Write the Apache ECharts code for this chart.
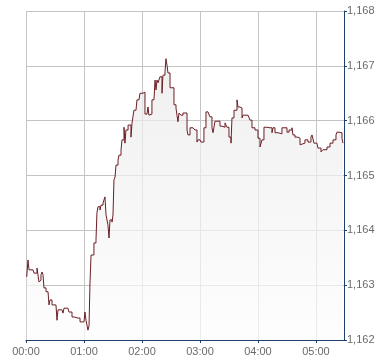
<!DOCTYPE html>
<html>
<head>
<meta charset="utf-8">
<script src="https://cdn.jsdelivr.net/npm/echarts@6/dist/echarts.min.js"></script>
<style>
html,body{margin:0;padding:0;background:#fff;}
#chart{width:390px;height:364px;}
</style>
</head>
<body>
<div id="chart"></div>
<script>
// minutes since 00:00
var minutes = [0.7,2.1,3.1,7.2,8.3,10.3,11.4,12.4,13.4,14.5,15.5,16.6,17.6,18.6,20.7,22.8,23.8,24.8,26.9,31,32.1,33.1,37.2,38.3,39.3,43.4,44.5,47.6,49.7,53.8,55.9,60,61,62.1,64.1,65.2,66.2,67.3,70.3,72.4,73.4,74.5,76.6,77.6,79.7,81.7,82.8,84.8,85.9,86.9,89,90,91,92.1,93.1,95.2,96.2,98.3,99.3,101.4,102.4,103.4,105.6,107.6,108.6,109.7,111.7,113.8,114.8,116.9,117.9,121,123.1,125.2,126.2,127.2,128.3,130.3,132.4,133.5,134.5,135.5,136.6,138.6,140.7,141.7,143.8,144.8,145.9,146.9,149,151,153.1,155.2,156.2,157.2,158.3,160.3,162.4,164.5,166.6,167.6,169.7,172.8,174.8,176.9,177.9,180,181,184.1,186.2,188.3,190.3,192.4,193.5,195.5,198.6,200.7,202.8,205.9,207.9,210,212.1,213.1,215.2,218.3,219.3,221.4,223.5,224.5,229.7,231.7,233.8,236.9,240,242.1,244.1,246.2,249.3,252.4,254.5,255.5,257.6,260.7,264.8,267.9,270,272.1,275.2,276.2,278.3,281.4,283.5,285.5,288.6,291.7,294.8,295.9,297.9,301,302.1,305.2,307.2,311.4,314.5,317.6,320.7,321.7,323.8,324.8,326.9,327.9];
var prices = [1163.15,1163.46,1163.28,1163.28,1163.22,1163.22,1163.31,1163.31,1163.06,1163.09,1163.19,1163.24,1163.19,1162.95,1162.88,1162.88,1162.64,1162.73,1162.64,1162.64,1162.36,1162.55,1162.55,1162.49,1162.58,1162.58,1162.51,1162.42,1162.40,1162.40,1162.33,1162.33,1162.51,1162.36,1162.18,1162.26,1163.04,1163.55,1163.77,1163.82,1164.32,1164.43,1164.37,1164.46,1164.50,1164.61,1164.28,1164.10,1163.86,1164.19,1164.15,1164.28,1164.92,1164.97,1165.19,1165.28,1165.37,1165.46,1165.65,1165.88,1165.59,1165.83,1165.92,1165.92,1165.70,1165.96,1166.19,1166.19,1166.38,1166.38,1166.50,1166.52,1166.12,1166.12,1166.25,1166.10,1166.12,1166.38,1166.38,1166.74,1166.56,1166.74,1166.69,1166.80,1166.50,1166.83,1166.89,1167.13,1167.01,1166.87,1166.60,1166.60,1166.29,1166.23,1166.10,1165.98,1166.14,1166.10,1166.14,1166.14,1165.83,1165.74,1165.87,1165.87,1165.83,1165.61,1165.65,1165.65,1165.61,1165.87,1166.16,1166.16,1166.07,1165.87,1165.78,1165.99,1165.99,1165.90,1165.88,1165.96,1165.88,1165.70,1165.59,1166.05,1166.19,1166.38,1166.25,1166.23,1166.05,1166.10,1166.10,1166.01,1165.87,1165.83,1165.68,1165.52,1165.65,1165.88,1165.87,1165.87,1165.78,1165.87,1165.78,1165.76,1165.87,1165.87,1165.79,1165.83,1165.87,1165.74,1165.70,1165.68,1165.56,1165.59,1165.65,1165.61,1165.70,1165.74,1165.59,1165.56,1165.50,1165.43,1165.47,1165.52,1165.59,1165.65,1165.74,1165.79,1165.78,1165.78,1165.68,1165.59];
var xTickLabels = ['00:00','01:00','02:00','03:00','04:00','05:00'];
var yTickLabels = ['1,162','1,163','1,164','1,165','1,166','1,167','1,168'];

var data = minutes.map(function(m, i){ return [m, prices[i]]; });
var chart = echarts.init(document.getElementById('chart'), null, {renderer:'canvas'});
var axisColor = '#1c3f6e';
var labelStyle = {color:'#6a6a6a', fontFamily:'Arial, "Liberation Sans", sans-serif', fontSize:11};
chart.setOption({
  animation:false,
  backgroundColor:'#ffffff',
  grid:{left:26, right:46, top:11, bottom:24, containLabel:false},
  xAxis:{
    type:'value', min:0, max:329, interval:60,
    axisLine:{show:true, onZero:false, lineStyle:{color:axisColor, width:1}},
    axisTick:{show:true, length:3, lineStyle:{color:axisColor}},
    axisLabel:Object.assign({margin:6, formatter:function(v){ return xTickLabels[Math.round(v/60)] || ''; }, showMaxLabel:false}, labelStyle),
    splitLine:{show:true, lineStyle:{color:'#c4c4c4', width:1}}
  },
  yAxis:{
    type:'value', position:'right', min:1162, max:1168, interval:1,
    axisLine:{show:true, onZero:false, lineStyle:{color:axisColor, width:1}},
    axisTick:{show:true, length:3, lineStyle:{color:axisColor}},
    axisLabel:Object.assign({margin:3, formatter:function(v){ return yTickLabels[Math.round(v-1162)]; }}, labelStyle),
    splitLine:{show:true, lineStyle:{color:'#c4c4c4', width:1}}
  },
  series:[{
    type:'line', data:data, step:'end', symbol:'none',
    lineStyle:{color:'#6b1f25', width:1},
    areaStyle:{color:new echarts.graphic.LinearGradient(0,0,0,1,[{offset:0,color:'#e9e9e9'},{offset:1,color:'#fdfdfd'}])},
    z:3
  }]
});
</script>
</body>
</html>
